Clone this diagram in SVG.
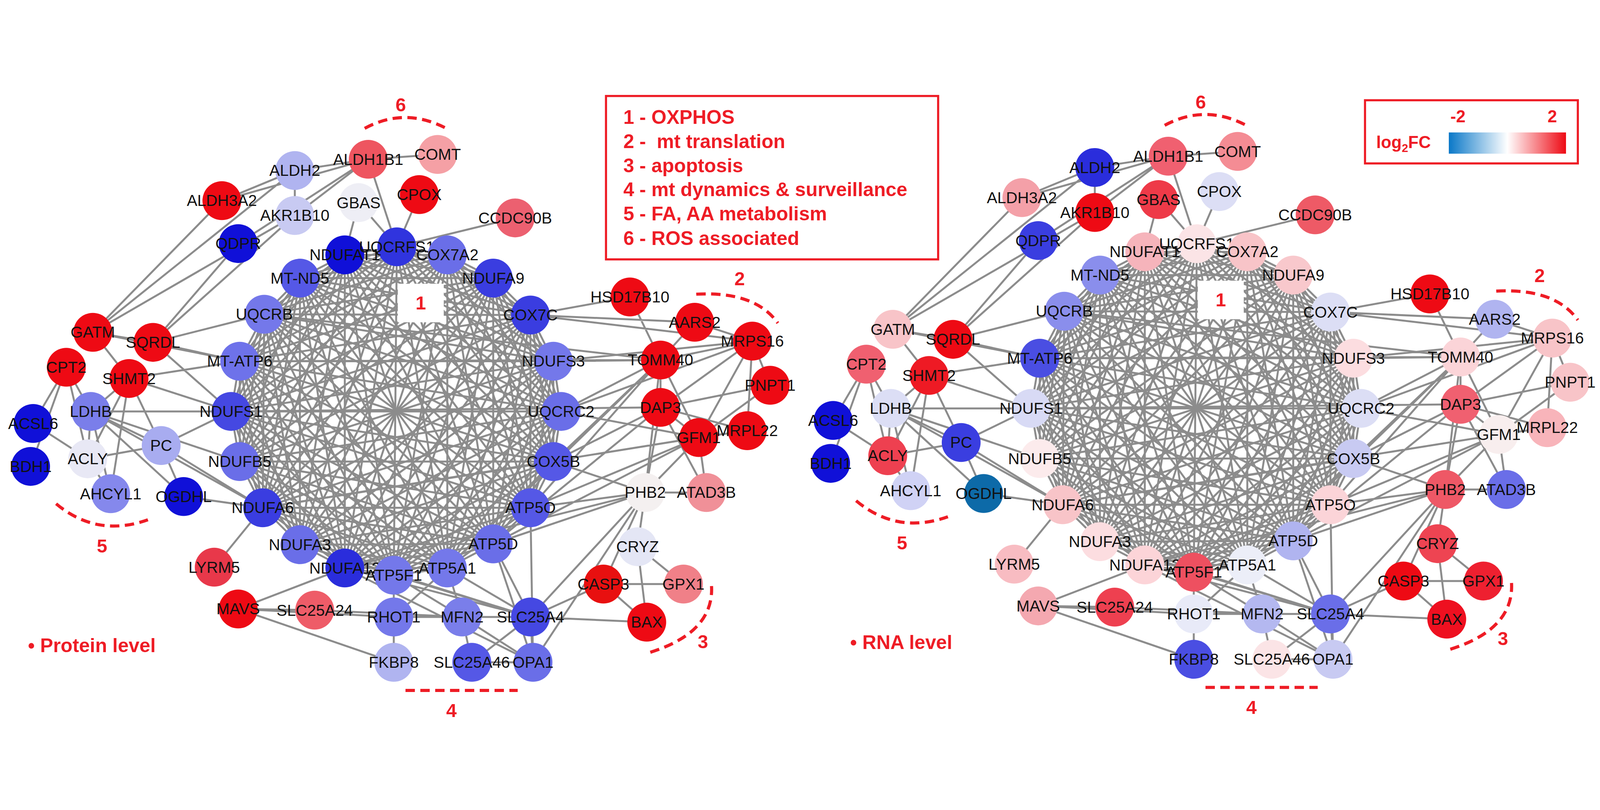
<svg xmlns="http://www.w3.org/2000/svg" xmlns:xlink="http://www.w3.org/1999/xlink" width="5270" height="2073" viewBox="0 0 5270 2073" style="max-width:100vw;max-height:100vh">
<style>
.u{transform:scale(0.5952,0.7564)}
.u text{font-family:"Liberation Sans",Arial,sans-serif;font-size:52px;text-anchor:middle;fill:#111}
.e{fill:none;stroke:#8c8c8c;stroke-width:5;vector-effect:non-scaling-stroke}
.arc{fill:none;stroke:#ee1c25;stroke-width:8;stroke-dasharray:24 14;vector-effect:non-scaling-stroke}
.lab{font-family:"Liberation Sans",Arial,sans-serif;font-weight:bold;fill:#ee1c25}
</style>
<defs>
<linearGradient id="gr" x1="0" x2="1" y1="0" y2="0"><stop offset="0" stop-color="#0a78c8"/><stop offset="0.5" stop-color="#ffffff"/><stop offset="1" stop-color="#ee0a14"/></linearGradient>
<g id="edgesL">
<polygon class="e" points="676,410 778,390 877,410 588,468 967,468 518,558 1040,560 470,675 1085,675 453,800 1100,800 470,925 1085,925 515,1040 1040,1040 588,1132 967,1130 676,1190 772,1208 877,1190"/>
<polygon class="e" points="676,410 588,468 1040,560 453,800 1085,925 588,1132 772,1208 778,390 967,468 470,675 1100,800 515,1040 967,1130 877,1190 877,410 518,558 1085,675 470,925 1040,1040 676,1190"/>
<polygon class="e" points="676,410 470,675 1040,1040 778,390 1085,675 588,1132 877,410 453,800 967,1130 588,468 1100,800 676,1190 967,468 470,925 772,1208 518,558 1085,925 877,1190 1040,560 515,1040"/>
<polygon class="e" points="676,410 453,800 772,1208 470,675 967,1130 518,558 1040,1040 588,468 1085,925 778,390 1100,800 877,1190 1085,675 676,1190 1040,560 588,1132 967,468 515,1040 877,410 470,925"/>
<polygon class="e" points="676,410 877,410 967,468 1040,560 1085,675 1100,800 1085,925 1040,1040 967,1130 772,1208"/>
<polygon class="e" points="778,390 588,468 518,558 470,675 453,800 470,925 515,1040 588,1132 676,1190 877,1190"/>
<polygon class="e" points="676,410 1040,560 1085,925 772,1208 967,468 1100,800 967,1130 877,410 1085,675 1040,1040"/>
<polygon class="e" points="778,390 470,675 515,1040 877,1190 518,558 470,925 676,1190 588,468 453,800 588,1132"/>
<polygon class="e" points="676,410 967,468 1085,675 1085,925 967,1130"/>
<polygon class="e" points="778,390 518,558 453,800 515,1040 676,1190"/>
<polygon class="e" points="877,410 1040,560 1100,800 1040,1040 772,1208"/>
<polygon class="e" points="588,468 470,675 470,925 588,1132 877,1190"/>
<polygon class="e" points="676,410 1085,675 967,1130 967,468 1085,925"/>
<polygon class="e" points="778,390 453,800 676,1190 518,558 515,1040"/>
<polygon class="e" points="877,410 1100,800 772,1208 1040,560 1040,1040"/>
<polygon class="e" points="588,468 470,925 877,1190 470,675 588,1132"/>
<polygon class="e" points="676,410 518,558 1100,800 588,1132"/>
<polygon class="e" points="778,390 1040,560 470,925 967,1130"/>
<polygon class="e" points="877,410 470,675 1085,925 676,1190"/>
<polygon class="e" points="588,468 1085,675 515,1040 772,1208"/>
<polygon class="e" points="967,468 453,800 1040,1040 877,1190"/>
<path class="e" d="M676 410L1100 800M778 390L470 925M877 410L1085 925M588 468L515 1040M967 468L1040 1040M518 558L588 1132M1040 560L967 1130M470 675L676 1190M1085 675L772 1208M453 800L877 1190"/>
<path class="e" d="M578 200L722 172M578 200L435 275M578 200L578 312M578 200L182 603M722 172L858 160M722 172L435 275M722 172L578 312M722 172L778 390M722 172L467 382M578 312L182 603M435 275L182 603M467 382L300 628M578 312L300 628M703 280L676 410M703 280L778 390M822 260L778 390M1010 318L778 390M182 603L300 628M182 603L253 718M182 603L470 675M300 628L470 675M300 628L453 800M300 628L518 558M130 690L65 830M130 690L178 800M130 690L172 918M130 690L60 937M253 718L178 800M253 718L316 885M253 718L470 675M253 718L217 1005M253 718L453 800M253 718L172 918M178 800L172 918M178 800L316 885M178 800L453 800M178 800L360 1012M178 800L217 1005M178 800L515 1040M178 800L470 925M172 918L316 885M172 918L217 1005M172 918L65 830M316 885L360 1012M316 885L515 1040M316 885L453 800M360 1012L515 1040M420 1188L515 1040M467 1292L617 1295M467 1292L772 1312M467 1292L676 1190M467 1292L772 1425M617 1295L906 1312M772 1312L906 1312M772 1312L772 1425M772 1312L772 1208M772 1312L877 1190M906 1312L1040 1312M906 1312L1045 1425M906 1312L925 1425M906 1312L877 1190M906 1312L772 1208M1040 1312L1045 1425M1040 1312L925 1425M1040 1312L1268 1325M1040 1312L877 1190M1040 1312L676 1190M1040 1312L1265 1002M1040 1312L1183 1230M1040 1312L772 1208M1040 1312L967 1130M1040 1312L588 1132M925 1425L1045 1425M1045 1425L1265 1002M1045 1425L967 1130M1045 1425L1040 1040M1045 1425L676 1190M1183 1230L1340 1230M1183 1230L1268 1325M1183 1230L1265 1002M1340 1230L1250 1137M1268 1325L1250 1137M1250 1137L1265 1002M1265 1002L1385 1002M1265 1002L1370 865M1265 1002L1295 672M1265 1002L1295 790M1265 1002L1040 1040M1265 1002L1085 925M1265 1002L676 1190M1265 1002L967 1130M1385 1002L1370 865M1385 1002L1295 790M1235 515L1295 672M1235 515L1040 560M1362 578L1475 625M1362 578L1295 672M1362 578L1040 560M1475 625L1295 672M1475 625L1295 790M1475 625L1370 865M1475 625L1510 735M1475 625L1465 848M1475 625L1100 800M1475 625L1085 675M1475 625L1040 560M1295 672L1295 790M1295 672L1370 865M1295 672L1085 675M1295 672L1100 800M1295 672L1085 925M1295 672L470 675M1295 672L518 558M1295 672L877 1190M1295 672L1040 1040M1510 735L1295 790M1510 735L1370 865M1295 790L1370 865M1295 790L1465 848M1295 790L453 800M1295 790L1085 925M1295 790L967 1130M1370 865L1465 848M1370 865L1100 800M1370 865L1040 1040M1370 865L967 1130M1370 865L515 1040"/>
</g>
<g id="deco">
<rect x="780" y="482" width="90" height="96" fill="#fff"/>
<path class="arc" d="M715 95Q795 40 878 97"/>
<path class="arc" d="M1365 508Q1480 500 1525 580"/>
<path class="arc" d="M110 1030Q190 1115 290 1070"/>
<path class="arc" d="M1275 1400Q1400 1350 1395 1235"/>
<path class="arc" d="M795 1495L1015 1495"/>
</g>
</defs>
<rect width="5270" height="2073" fill="#fff"/>

<g id="connectors">
<g transform="matrix(1.68 0 0 1.322 0 0)"><use xlink:href="#edgesL"/><use xlink:href="#deco"/></g>
<g transform="translate(2635 -10) matrix(1.68 0 0 1.322 0 0)"><use xlink:href="#edgesL"/><use xlink:href="#deco"/></g>
</g>

<g id="protein-nodes" transform="matrix(1.68 0 0 1.322 0 0)">
<g id="p-ALDH2" transform="translate(578 200)"><g class="u"><circle r="64" fill="#b0b4f0"/><text y="18">ALDH2</text></g></g>
<g id="p-ALDH1B1" transform="translate(722 172)"><g class="u"><circle r="64" fill="#ee5560"/><text y="18">ALDH1B1</text></g></g>
<g id="p-COMT" transform="translate(858 160)"><g class="u"><circle r="64" fill="#f5a0a5"/><text y="18">COMT</text></g></g>
<g id="p-ALDH3A2" transform="translate(435 275)"><g class="u"><circle r="64" fill="#ee0a14"/><text y="18">ALDH3A2</text></g></g>
<g id="p-AKR1B10" transform="translate(578 312)"><g class="u"><circle r="64" fill="#c8caf2"/><text y="18">AKR1B10</text></g></g>
<g id="p-GBAS" transform="translate(703 280)"><g class="u"><circle r="64" fill="#eeeef5"/><text y="18">GBAS</text></g></g>
<g id="p-CPOX" transform="translate(822 260)"><g class="u"><circle r="64" fill="#ee0a14"/><text y="18">CPOX</text></g></g>
<g id="p-CCDC90B" transform="translate(1010 318)"><g class="u"><circle r="64" fill="#ec6070"/><text y="18">CCDC90B</text></g></g>
<g id="p-QDPR" transform="translate(467 382)"><g class="u"><circle r="64" fill="#1010d8"/><text y="18">QDPR</text></g></g>
<g id="p-NDUFAT1" transform="translate(676 410)"><g class="u"><circle r="64" fill="#1010d8"/><text y="18">NDUFAT1</text></g></g>
<g id="p-UQCRFS1" transform="translate(778 390)"><g class="u"><circle r="64" fill="#3034de"/><text y="18">UQCRFS1</text></g></g>
<g id="p-COX7A2" transform="translate(877 410)"><g class="u"><circle r="64" fill="#6a6ee8"/><text y="18">COX7A2</text></g></g>
<g id="p-MT-ND5" transform="translate(588 468)"><g class="u"><circle r="64" fill="#5558e6"/><text y="18">MT-ND5</text></g></g>
<g id="p-NDUFA9" transform="translate(967 468)"><g class="u"><circle r="64" fill="#3a3de0"/><text y="18">NDUFA9</text></g></g>
<g id="p-UQCRB" transform="translate(518 558)"><g class="u"><circle r="64" fill="#7478ea"/><text y="18">UQCRB</text></g></g>
<g id="p-COX7C" transform="translate(1040 560)"><g class="u"><circle r="64" fill="#3a3de0"/><text y="18">COX7C</text></g></g>
<g id="p-HSD17B10" transform="translate(1235 515)"><g class="u"><circle r="64" fill="#ee0a14"/><text y="18">HSD17B10</text></g></g>
<g id="p-AARS2" transform="translate(1362 578)"><g class="u"><circle r="64" fill="#ee0a14"/><text y="18">AARS2</text></g></g>
<g id="p-MRPS16" transform="translate(1475 625)"><g class="u"><circle r="64" fill="#ee0a14"/><text y="18">MRPS16</text></g></g>
<g id="p-GATM" transform="translate(182 603)"><g class="u"><circle r="64" fill="#ee0a14"/><text y="18">GATM</text></g></g>
<g id="p-SQRDL" transform="translate(300 628)"><g class="u"><circle r="64" fill="#ee0a14"/><text y="18">SQRDL</text></g></g>
<g id="p-MT-ATP6" transform="translate(470 675)"><g class="u"><circle r="64" fill="#6e72ea"/><text y="18">MT-ATP6</text></g></g>
<g id="p-NDUFS3" transform="translate(1085 675)"><g class="u"><circle r="64" fill="#7478ea"/><text y="18">NDUFS3</text></g></g>
<g id="p-TOMM40" transform="translate(1295 672)"><g class="u"><circle r="64" fill="#ee0a14"/><text y="18">TOMM40</text></g></g>
<g id="p-CPT2" transform="translate(130 690)"><g class="u"><circle r="64" fill="#ee0a14"/><text y="18">CPT2</text></g></g>
<g id="p-SHMT2" transform="translate(253 718)"><g class="u"><circle r="64" fill="#ee0a14"/><text y="18">SHMT2</text></g></g>
<g id="p-PNPT1" transform="translate(1510 735)"><g class="u"><circle r="64" fill="#ee0a14"/><text y="18">PNPT1</text></g></g>
<g id="p-LDHB" transform="translate(178 800)"><g class="u"><circle r="64" fill="#7a7eea"/><text y="18">LDHB</text></g></g>
<g id="p-NDUFS1" transform="translate(453 800)"><g class="u"><circle r="64" fill="#4548e2"/><text y="18">NDUFS1</text></g></g>
<g id="p-UQCRC2" transform="translate(1100 800)"><g class="u"><circle r="64" fill="#6a6ee8"/><text y="18">UQCRC2</text></g></g>
<g id="p-DAP3" transform="translate(1295 790)"><g class="u"><circle r="64" fill="#ee0a14"/><text y="18">DAP3</text></g></g>
<g id="p-ACSL6" transform="translate(65 830)"><g class="u"><circle r="64" fill="#1010d8"/><text y="18">ACSL6</text></g></g>
<g id="p-MRPL22" transform="translate(1465 848)"><g class="u"><circle r="64" fill="#ee0a14"/><text y="18">MRPL22</text></g></g>
<g id="p-GFM1" transform="translate(1370 865)"><g class="u"><circle r="64" fill="#ee0a14"/><text y="18">GFM1</text></g></g>
<g id="p-PC" transform="translate(316 885)"><g class="u"><circle r="64" fill="#a8acf0"/><text y="18">PC</text></g></g>
<g id="p-ACLY" transform="translate(172 918)"><g class="u"><circle r="64" fill="#e8e8f5"/><text y="18">ACLY</text></g></g>
<g id="p-NDUFB5" transform="translate(470 925)"><g class="u"><circle r="64" fill="#6a6ee8"/><text y="18">NDUFB5</text></g></g>
<g id="p-COX5B" transform="translate(1085 925)"><g class="u"><circle r="64" fill="#5558e6"/><text y="18">COX5B</text></g></g>
<g id="p-BDH1" transform="translate(60 937)"><g class="u"><circle r="64" fill="#1010d8"/><text y="18">BDH1</text></g></g>
<g id="p-AHCYL1" transform="translate(217 1005)"><g class="u"><circle r="64" fill="#8588ec"/><text y="18">AHCYL1</text></g></g>
<g id="p-OGDHL" transform="translate(360 1012)"><g class="u"><circle r="64" fill="#1010d8"/><text y="18">OGDHL</text></g></g>
<g id="p-PHB2" transform="translate(1265 1002)"><g class="u"><circle r="64" fill="#f4f0f0"/><text y="18">PHB2</text></g></g>
<g id="p-ATAD3B" transform="translate(1385 1002)"><g class="u"><circle r="64" fill="#f09098"/><text y="18">ATAD3B</text></g></g>
<g id="p-NDUFA6" transform="translate(515 1040)"><g class="u"><circle r="64" fill="#3a3de0"/><text y="18">NDUFA6</text></g></g>
<g id="p-ATP5O" transform="translate(1040 1040)"><g class="u"><circle r="64" fill="#5558e6"/><text y="18">ATP5O</text></g></g>
<g id="p-ATP5D" transform="translate(967 1130)"><g class="u"><circle r="64" fill="#6a6ee8"/><text y="18">ATP5D</text></g></g>
<g id="p-NDUFA3" transform="translate(588 1132)"><g class="u"><circle r="64" fill="#6a6ee8"/><text y="18">NDUFA3</text></g></g>
<g id="p-CRYZ" transform="translate(1250 1137)"><g class="u"><circle r="64" fill="#e4e6f5"/><text y="18">CRYZ</text></g></g>
<g id="p-LYRM5" transform="translate(420 1188)"><g class="u"><circle r="64" fill="#e8384a"/><text y="18">LYRM5</text></g></g>
<g id="p-NDUFA12" transform="translate(676 1190)"><g class="u"><circle r="64" fill="#2a2ddc"/><text y="18">NDUFA12</text></g></g>
<g id="p-ATP5F1" transform="translate(772 1208)"><g class="u"><circle r="64" fill="#7478ea"/><text y="18">ATP5F1</text></g></g>
<g id="p-ATP5A1" transform="translate(877 1190)"><g class="u"><circle r="64" fill="#7478ea"/><text y="18">ATP5A1</text></g></g>
<g id="p-CASP3" transform="translate(1183 1230)"><g class="u"><circle r="64" fill="#e81010"/><text y="18">CASP3</text></g></g>
<g id="p-GPX1" transform="translate(1340 1230)"><g class="u"><circle r="64" fill="#f08088"/><text y="18">GPX1</text></g></g>
<g id="p-MAVS" transform="translate(467 1292)"><g class="u"><circle r="64" fill="#ee0a14"/><text y="18">MAVS</text></g></g>
<g id="p-SLC25A24" transform="translate(617 1295)"><g class="u"><circle r="64" fill="#ee5c68"/><text y="18">SLC25A24</text></g></g>
<g id="p-RHOT1" transform="translate(772 1312)"><g class="u"><circle r="64" fill="#7478ea"/><text y="18">RHOT1</text></g></g>
<g id="p-MFN2" transform="translate(906 1312)"><g class="u"><circle r="64" fill="#7a7eea"/><text y="18">MFN2</text></g></g>
<g id="p-SLC25A4" transform="translate(1040 1312)"><g class="u"><circle r="64" fill="#4548e2"/><text y="18">SLC25A4</text></g></g>
<g id="p-BAX" transform="translate(1268 1325)"><g class="u"><circle r="64" fill="#ee0a14"/><text y="18">BAX</text></g></g>
<g id="p-FKBP8" transform="translate(772 1425)"><g class="u"><circle r="64" fill="#b0b4f0"/><text y="18">FKBP8</text></g></g>
<g id="p-SLC25A46" transform="translate(925 1425)"><g class="u"><circle r="64" fill="#5558e6"/><text y="18">SLC25A46</text></g></g>
<g id="p-OPA1" transform="translate(1045 1425)"><g class="u"><circle r="64" fill="#6a6ee8"/><text y="18">OPA1</text></g></g>
</g>

<g id="rna-nodes" transform="translate(2635 -10) matrix(1.68 0 0 1.322 0 0)">
<g id="r-ALDH2" transform="translate(578 200)"><g class="u"><circle r="64" fill="#2a2ddc"/><text y="18">ALDH2</text></g></g>
<g id="r-ALDH1B1" transform="translate(722 172)"><g class="u"><circle r="64" fill="#f06070"/><text y="18">ALDH1B1</text></g></g>
<g id="r-COMT" transform="translate(858 160)"><g class="u"><circle r="64" fill="#f48c94"/><text y="18">COMT</text></g></g>
<g id="r-ALDH3A2" transform="translate(435 275)"><g class="u"><circle r="64" fill="#f4a0a8"/><text y="18">ALDH3A2</text></g></g>
<g id="r-AKR1B10" transform="translate(578 312)"><g class="u"><circle r="64" fill="#ee0a14"/><text y="18">AKR1B10</text></g></g>
<g id="r-GBAS" transform="translate(703 280)"><g class="u"><circle r="64" fill="#ee3a48"/><text y="18">GBAS</text></g></g>
<g id="r-CPOX" transform="translate(822 260)"><g class="u"><circle r="64" fill="#dcdef5"/><text y="18">CPOX</text></g></g>
<g id="r-CCDC90B" transform="translate(1010 318)"><g class="u"><circle r="64" fill="#ee5a66"/><text y="18">CCDC90B</text></g></g>
<g id="r-QDPR" transform="translate(467 382)"><g class="u"><circle r="64" fill="#3a3ee0"/><text y="18">QDPR</text></g></g>
<g id="r-NDUFAT1" transform="translate(676 410)"><g class="u"><circle r="64" fill="#f6b4bb"/><text y="18">NDUFAT1</text></g></g>
<g id="r-UQCRFS1" transform="translate(778 390)"><g class="u"><circle r="64" fill="#fbe4e6"/><text y="18">UQCRFS1</text></g></g>
<g id="r-COX7A2" transform="translate(877 410)"><g class="u"><circle r="64" fill="#f8c4c8"/><text y="18">COX7A2</text></g></g>
<g id="r-MT-ND5" transform="translate(588 468)"><g class="u"><circle r="64" fill="#8a8eec"/><text y="18">MT-ND5</text></g></g>
<g id="r-NDUFA9" transform="translate(967 468)"><g class="u"><circle r="64" fill="#f8c8cc"/><text y="18">NDUFA9</text></g></g>
<g id="r-UQCRB" transform="translate(518 558)"><g class="u"><circle r="64" fill="#8a8eec"/><text y="18">UQCRB</text></g></g>
<g id="r-COX7C" transform="translate(1040 560)"><g class="u"><circle r="64" fill="#dcdef5"/><text y="18">COX7C</text></g></g>
<g id="r-HSD17B10" transform="translate(1235 515)"><g class="u"><circle r="64" fill="#ee0a14"/><text y="18">HSD17B10</text></g></g>
<g id="r-AARS2" transform="translate(1362 578)"><g class="u"><circle r="64" fill="#b0b4f0"/><text y="18">AARS2</text></g></g>
<g id="r-MRPS16" transform="translate(1475 625)"><g class="u"><circle r="64" fill="#f8c4c8"/><text y="18">MRPS16</text></g></g>
<g id="r-GATM" transform="translate(182 603)"><g class="u"><circle r="64" fill="#f8c4c8"/><text y="18">GATM</text></g></g>
<g id="r-SQRDL" transform="translate(300 628)"><g class="u"><circle r="64" fill="#ee0a14"/><text y="18">SQRDL</text></g></g>
<g id="r-MT-ATP6" transform="translate(470 675)"><g class="u"><circle r="64" fill="#4a4ee2"/><text y="18">MT-ATP6</text></g></g>
<g id="r-NDUFS3" transform="translate(1085 675)"><g class="u"><circle r="64" fill="#fcdde0"/><text y="18">NDUFS3</text></g></g>
<g id="r-TOMM40" transform="translate(1295 672)"><g class="u"><circle r="64" fill="#fbd4d8"/><text y="18">TOMM40</text></g></g>
<g id="r-CPT2" transform="translate(130 690)"><g class="u"><circle r="64" fill="#f06070"/><text y="18">CPT2</text></g></g>
<g id="r-SHMT2" transform="translate(253 718)"><g class="u"><circle r="64" fill="#ee1a24"/><text y="18">SHMT2</text></g></g>
<g id="r-PNPT1" transform="translate(1510 735)"><g class="u"><circle r="64" fill="#f8c4c8"/><text y="18">PNPT1</text></g></g>
<g id="r-LDHB" transform="translate(178 800)"><g class="u"><circle r="64" fill="#dcdef5"/><text y="18">LDHB</text></g></g>
<g id="r-NDUFS1" transform="translate(453 800)"><g class="u"><circle r="64" fill="#d8daf5"/><text y="18">NDUFS1</text></g></g>
<g id="r-UQCRC2" transform="translate(1100 800)"><g class="u"><circle r="64" fill="#dcdef5"/><text y="18">UQCRC2</text></g></g>
<g id="r-DAP3" transform="translate(1295 790)"><g class="u"><circle r="64" fill="#f06070"/><text y="18">DAP3</text></g></g>
<g id="r-ACSL6" transform="translate(65 830)"><g class="u"><circle r="64" fill="#1010d8"/><text y="18">ACSL6</text></g></g>
<g id="r-MRPL22" transform="translate(1465 848)"><g class="u"><circle r="64" fill="#f8b4ba"/><text y="18">MRPL22</text></g></g>
<g id="r-GFM1" transform="translate(1370 865)"><g class="u"><circle r="64" fill="#f8eeee"/><text y="18">GFM1</text></g></g>
<g id="r-PC" transform="translate(316 885)"><g class="u"><circle r="64" fill="#3a3ee0"/><text y="18">PC</text></g></g>
<g id="r-ACLY" transform="translate(172 918)"><g class="u"><circle r="64" fill="#ee4050"/><text y="18">ACLY</text></g></g>
<g id="r-NDUFB5" transform="translate(470 925)"><g class="u"><circle r="64" fill="#fcebec"/><text y="18">NDUFB5</text></g></g>
<g id="r-COX5B" transform="translate(1085 925)"><g class="u"><circle r="64" fill="#c8caf2"/><text y="18">COX5B</text></g></g>
<g id="r-BDH1" transform="translate(60 937)"><g class="u"><circle r="64" fill="#1010d8"/><text y="18">BDH1</text></g></g>
<g id="r-AHCYL1" transform="translate(217 1005)"><g class="u"><circle r="64" fill="#d0d2f5"/><text y="18">AHCYL1</text></g></g>
<g id="r-OGDHL" transform="translate(360 1012)"><g class="u"><circle r="64" fill="#0d6aa8"/><text y="18">OGDHL</text></g></g>
<g id="r-PHB2" transform="translate(1265 1002)"><g class="u"><circle r="64" fill="#ee5866"/><text y="18">PHB2</text></g></g>
<g id="r-ATAD3B" transform="translate(1385 1002)"><g class="u"><circle r="64" fill="#6a6ee8"/><text y="18">ATAD3B</text></g></g>
<g id="r-NDUFA6" transform="translate(515 1040)"><g class="u"><circle r="64" fill="#f8c4c8"/><text y="18">NDUFA6</text></g></g>
<g id="r-ATP5O" transform="translate(1040 1040)"><g class="u"><circle r="64" fill="#fbd4d8"/><text y="18">ATP5O</text></g></g>
<g id="r-ATP5D" transform="translate(967 1130)"><g class="u"><circle r="64" fill="#b0b4f0"/><text y="18">ATP5D</text></g></g>
<g id="r-NDUFA3" transform="translate(588 1132)"><g class="u"><circle r="64" fill="#fcdde0"/><text y="18">NDUFA3</text></g></g>
<g id="r-CRYZ" transform="translate(1250 1137)"><g class="u"><circle r="64" fill="#ee4452"/><text y="18">CRYZ</text></g></g>
<g id="r-LYRM5" transform="translate(420 1188)"><g class="u"><circle r="64" fill="#f8bcc2"/><text y="18">LYRM5</text></g></g>
<g id="r-NDUFA12" transform="translate(676 1190)"><g class="u"><circle r="64" fill="#fcd4d8"/><text y="18">NDUFA12</text></g></g>
<g id="r-ATP5F1" transform="translate(772 1208)"><g class="u"><circle r="64" fill="#ee5060"/><text y="18">ATP5F1</text></g></g>
<g id="r-ATP5A1" transform="translate(877 1190)"><g class="u"><circle r="64" fill="#eceef8"/><text y="18">ATP5A1</text></g></g>
<g id="r-CASP3" transform="translate(1183 1230)"><g class="u"><circle r="64" fill="#ee0a14"/><text y="18">CASP3</text></g></g>
<g id="r-GPX1" transform="translate(1340 1230)"><g class="u"><circle r="64" fill="#ee2030"/><text y="18">GPX1</text></g></g>
<g id="r-MAVS" transform="translate(467 1292)"><g class="u"><circle r="64" fill="#f4a8b0"/><text y="18">MAVS</text></g></g>
<g id="r-SLC25A24" transform="translate(617 1295)"><g class="u"><circle r="64" fill="#ee4050"/><text y="18">SLC25A24</text></g></g>
<g id="r-RHOT1" transform="translate(772 1312)"><g class="u"><circle r="64" fill="#e8eaf8"/><text y="18">RHOT1</text></g></g>
<g id="r-MFN2" transform="translate(906 1312)"><g class="u"><circle r="64" fill="#b4b8f0"/><text y="18">MFN2</text></g></g>
<g id="r-SLC25A4" transform="translate(1040 1312)"><g class="u"><circle r="64" fill="#6a6ee8"/><text y="18">SLC25A4</text></g></g>
<g id="r-BAX" transform="translate(1268 1325)"><g class="u"><circle r="64" fill="#ee1020"/><text y="18">BAX</text></g></g>
<g id="r-FKBP8" transform="translate(772 1425)"><g class="u"><circle r="64" fill="#4a4ee2"/><text y="18">FKBP8</text></g></g>
<g id="r-SLC25A46" transform="translate(925 1425)"><g class="u"><circle r="64" fill="#fbe4e6"/><text y="18">SLC25A46</text></g></g>
<g id="r-OPA1" transform="translate(1045 1425)"><g class="u"><circle r="64" fill="#c8caf2"/><text y="18">OPA1</text></g></g>
</g>

<g id="labels">
<g class="lab" font-size="62" text-anchor="middle">
<text x="1386" y="722">1</text><text x="1320" y="70">6</text><text x="2436" y="642">2</text><text x="336" y="1522">5</text><text x="2315" y="1837">3</text><text x="1487" y="2064">4</text>
<text x="4021" y="712">1</text><text x="3955" y="60">6</text><text x="5071" y="632">2</text><text x="2971" y="1512">5</text><text x="4950" y="1827">3</text><text x="4122" y="2054">4</text>
</g>
<text class="lab" x="92" y="1850" font-size="64">• Protein level</text>
<text class="lab" x="2800" y="1840" font-size="64">• RNA level</text>
</g>

<g id="legend">
<rect x="1996" y="19" width="1094" height="538" fill="none" stroke="#ee1c25" stroke-width="7"/>
<g class="lab" font-size="64">
<text x="2053" y="111">1 - OXPHOS</text>
<text x="2053" y="191" xml:space="preserve">2 -  mt translation</text>
<text x="2053" y="270">3 - apoptosis</text>
<text x="2053" y="349">4 - mt dynamics &amp; surveillance</text>
<text x="2053" y="429">5 - FA, AA metabolism</text>
<text x="2053" y="509">6 - ROS associated</text>
</g>
</g>

<g id="colorscale">
<rect x="4496" y="33" width="701" height="208" fill="#fff" stroke="#ee1c25" stroke-width="7"/>
<rect x="4772" y="139" width="386" height="70" fill="url(#gr)"/>
<g class="lab" font-size="56" text-anchor="middle"><text x="4802" y="106">-2</text><text x="5113" y="106">2</text></g>
<text class="lab" x="4533" y="190" font-size="56">log<tspan font-size="38" dy="14">2</tspan><tspan dy="-14">FC</tspan></text>
</g>
</svg>
